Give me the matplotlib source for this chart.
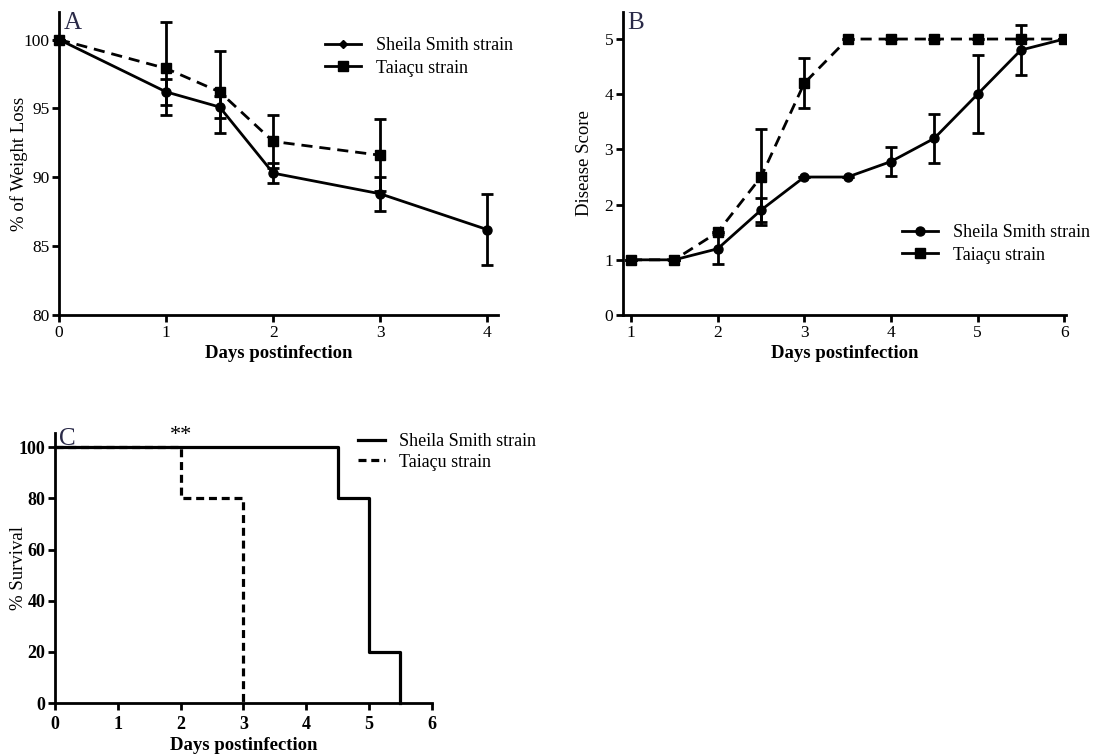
import matplotlib.pyplot as plt
from matplotlib.lines import Line2D

plt.rcParams['font.family'] = ['Liberation Serif', 'DejaVu Serif']

# ---- Panel A: weight loss ----
a_days_ss = [0, 1, 1.5, 2, 3, 4]
a_ss = [100, 96.2, 95.1, 90.3, 88.8, 86.2]
a_ss_err = [0, 0.95, 0.8, 0.75, 1.25, 2.6]
a_days_ta = [0, 1, 1.5, 2, 3]
a_ta = [100, 97.9, 96.2, 92.6, 91.6]
a_ta_err = [0, 3.4, 3.0, 1.95, 2.6]

# ---- Panel B: disease score ----
b_days = [1, 1.5, 2, 2.5, 3, 3.5, 4, 4.5, 5, 5.5, 6]
b_ss = [1, 1, 1.2, 1.9, 2.5, 2.5, 2.78, 3.2, 4.0, 4.8, 5]
b_ss_err = [0, 0, 0.27, 0.22, 0, 0, 0.27, 0.45, 0.71, 0.45, 0]
b_ta = [1, 1, 1.5, 2.5, 4.2, 5, 5, 5, 5, 5, 5]
b_ta_err = [0, 0, 0, 0.87, 0.45, 0, 0, 0, 0, 0, 0]

# ---- Panel C: survival ----
c_days_ss = [0, 4.5, 4.5, 5, 5, 5.5, 5.5]
c_surv_ss = [100, 100, 80, 80, 20, 20, 0]
c_days_ta = [0, 2, 2, 3, 3]
c_surv_ta = [100, 100, 80, 80, 0]

labels = ['Sheila Smith strain', 'Taiaçu strain']
navy = '#2a2a48'
lw = 2.0
dash = (0, (4, 2.5))

fig = plt.figure(figsize=(10.99, 7.54), dpi=100)
axA = fig.add_axes([0.0537, 0.5822, 0.3995, 0.4019])
axB = fig.add_axes([0.5669, 0.5822, 0.403, 0.4019])
axC = fig.add_axes([0.05, 0.0676, 0.343, 0.358])


def style(ax):
    for s in ['top', 'right']:
        ax.spines[s].set_visible(False)
    for s in ['left', 'bottom']:
        ax.spines[s].set_linewidth(2.0)
    ax.tick_params(width=2.0, length=5, labelsize=12.5, direction='out', pad=2)


# A
axA.errorbar(a_days_ss, a_ss, yerr=a_ss_err, color='black', lw=lw, marker='o', ms=6.5,
             capsize=4, capthick=lw, elinewidth=lw, label=labels[0], clip_on=False, zorder=3)
axA.errorbar(a_days_ta, a_ta, yerr=a_ta_err, color='black', lw=lw, ls=dash, marker='s', ms=6.5,
             capsize=4, capthick=lw, elinewidth=lw, label=labels[1], clip_on=False, zorder=3)
axA.set_xlim(0, 4.1)
axA.set_ylim(80, 102)
axA.set_xticks([0, 1, 2, 3, 4])
axA.set_yticks([80, 85, 90, 95, 100])
axA.set_xlabel('Days postinfection', fontsize=13.5, fontweight='bold', labelpad=3)
axA.set_ylabel('% of Weight Loss', fontsize=13.5)
axA.yaxis.set_label_coords(-0.071, 0.5)
style(axA)
hA = [Line2D([], [], color='black', lw=lw, marker='D', ms=4),
      Line2D([], [], color='black', lw=lw, marker='s', ms=7)]
axA.legend(hA, labels, loc='upper right', bbox_to_anchor=(1.07, 0.97), frameon=False,
           fontsize=13, handlelength=2.0, labelspacing=0.3)
axA.text(0.01, 1.0, 'A', transform=axA.transAxes, fontsize=18, color=navy, va='top')

# B
axB.errorbar(b_days, b_ss, yerr=b_ss_err, color='black', lw=lw, marker='o', ms=6.5,
             capsize=4, capthick=lw, elinewidth=lw, label=labels[0], zorder=3)
axB.errorbar(b_days, b_ta, yerr=b_ta_err, color='black', lw=lw, ls=dash, marker='s', ms=6.5,
             capsize=4, capthick=lw, elinewidth=lw, label=labels[1], zorder=3)
axB.set_xlim(0.908, 6.02)
axB.set_ylim(0, 5.49)
axB.set_xticks([1, 2, 3, 4, 5, 6])
axB.set_yticks([0, 1, 2, 3, 4, 5])
axB.set_xlabel('Days postinfection', fontsize=13.5, fontweight='bold', labelpad=3)
axB.set_ylabel('Disease Score', fontsize=13.5)
axB.yaxis.set_label_coords(-0.068, 0.5)
style(axB)
hB = [Line2D([], [], color='black', lw=lw, marker='o', ms=6.5),
      Line2D([], [], color='black', lw=lw, marker='s', ms=7)]
axB.legend(hB, labels, loc='center right', bbox_to_anchor=(1.09, 0.235), frameon=False,
           fontsize=13, handlelength=2.0, labelspacing=0.3)
axB.text(0.01, 1.0, 'B', transform=axB.transAxes, fontsize=18, color=navy, va='top')

# C
axC.plot(c_days_ss, c_surv_ss, color='black', lw=2.3, label=labels[0], clip_on=False)
axC.plot(c_days_ta, c_surv_ta, color='black', lw=2.3, ls=(0, (2.5, 1.5)), label=labels[1], clip_on=False)
axC.set_xlim(0, 6.0)
axC.set_ylim(0, 105.5)
axC.set_xticks([0, 1, 2, 3, 4, 5, 6])
axC.set_yticks([0, 20, 40, 60, 80, 100])
axC.set_xlabel('Days postinfection', fontsize=13.5, fontweight='bold', labelpad=3)
axC.set_ylabel('% Survival', fontsize=13.5)
axC.yaxis.set_label_coords(-0.074, 0.5)
style(axC)
axC.tick_params(labelsize=13)
axC.tick_params(axis='x', pad=4)
for t in axC.get_xticklabels() + axC.get_yticklabels():
    t.set_fontweight('bold')
axC.legend(loc='upper left', bbox_to_anchor=(0.76, 1.06), frameon=False, fontsize=13,
           handlelength=1.5, labelspacing=0.2)
axC.text(0.012, 1.02, 'C', transform=axC.transAxes, fontsize=18, color=navy, va='top')
axC.text(2, 101, '**', ha='center', va='bottom', fontsize=16)

fig.savefig('out.png', dpi=100)
